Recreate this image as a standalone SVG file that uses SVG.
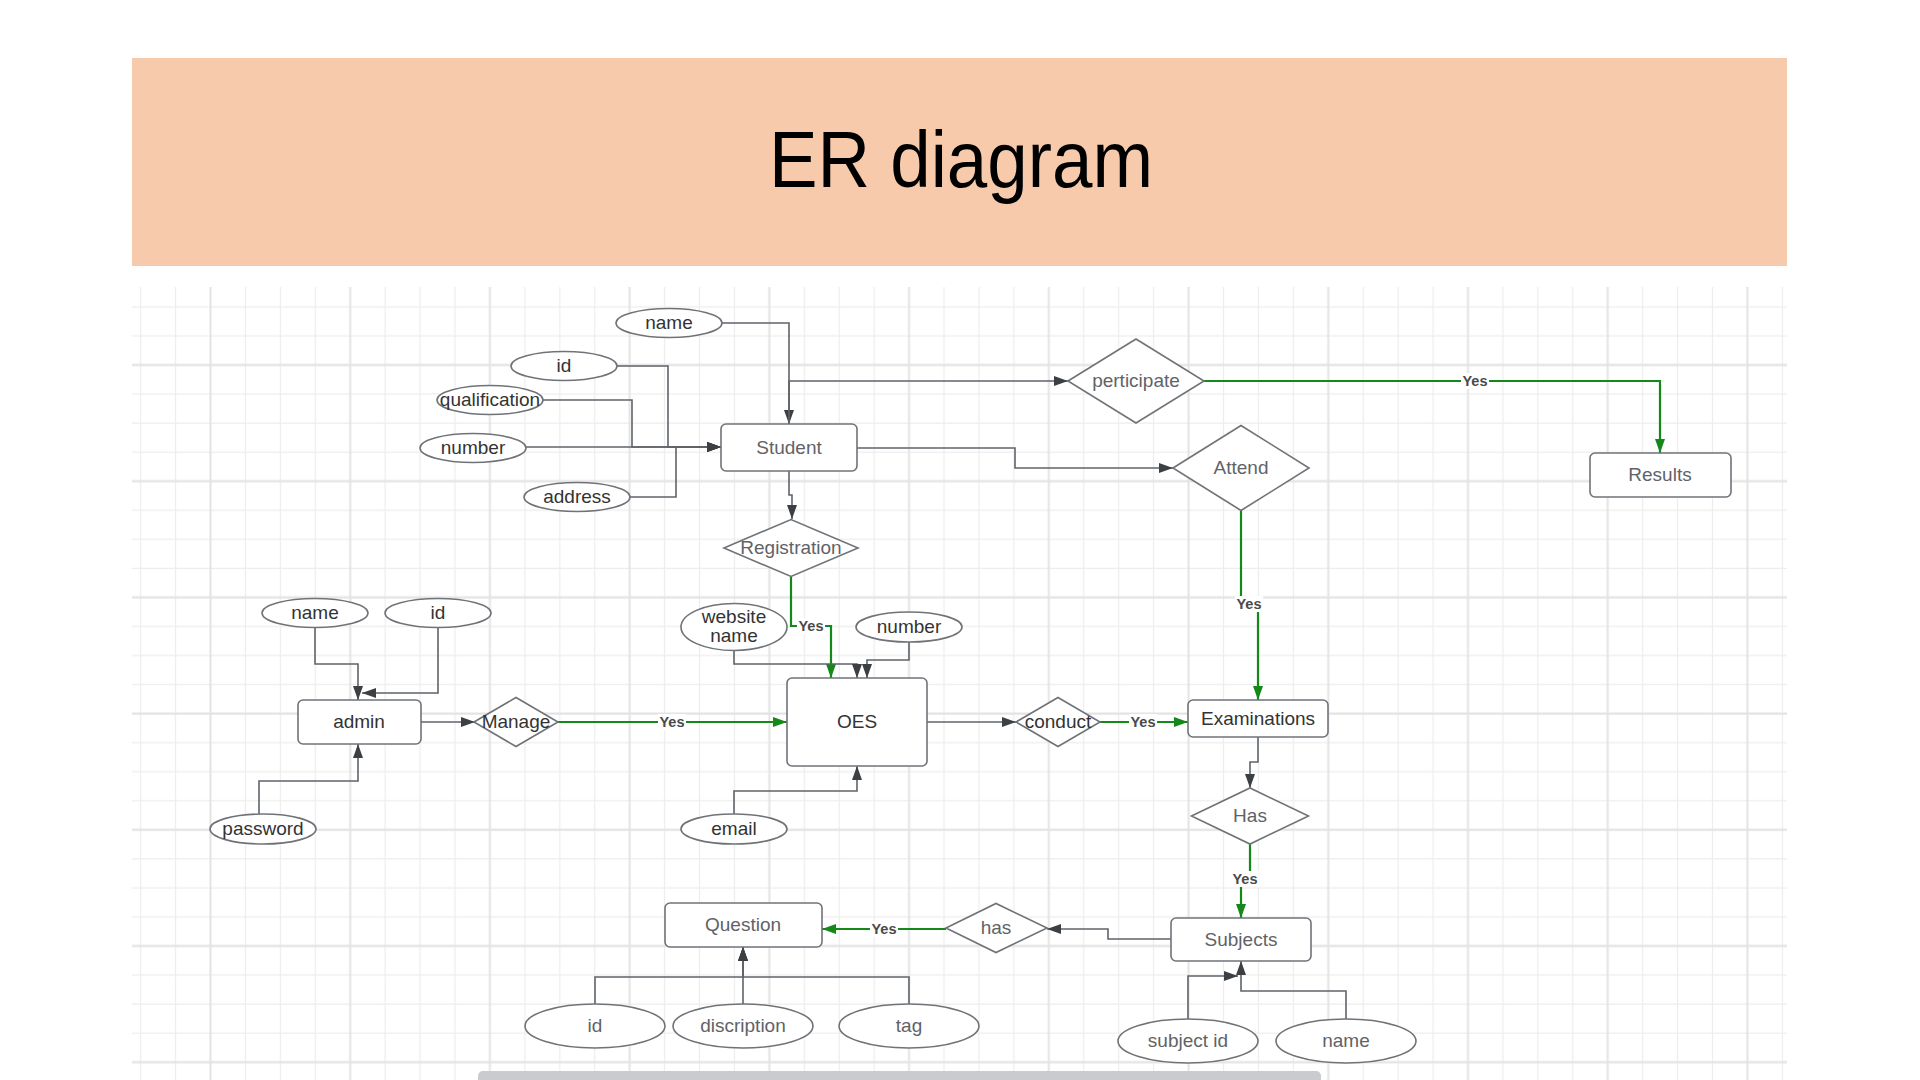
<svg xmlns="http://www.w3.org/2000/svg" width="1920" height="1080" viewBox="0 0 1920 1080">
<style>
.t{font-family:"Liberation Sans",Arial,sans-serif;font-size:19px;text-anchor:middle}
.dk{fill:#333333}
.gy{fill:#5f6368}
.shape{fill:#ffffff;stroke:#6f7378;stroke-width:1.6}
.c{fill:none;stroke:#5f6368;stroke-width:1.6}
.g{fill:none;stroke:#14891a;stroke-width:2.2}
.yes{font-family:"Liberation Sans",Arial,sans-serif;font-size:14.5px;font-weight:bold;fill:#4a4a4a;text-anchor:middle}
.yb{fill:#ffffff}
</style>
<defs>
<pattern id="grid" patternUnits="userSpaceOnUse" x="193.035" y="350.475" width="139.72" height="116.2">
<g stroke="#ededed" stroke-width="1.3">
<line x1="52.395" y1="0" x2="52.395" y2="116.2"/>
<line x1="87.325" y1="0" x2="87.325" y2="116.2"/>
<line x1="122.255" y1="0" x2="122.255" y2="116.2"/>
<line x1="0" y1="43.575" x2="139.72" y2="43.575"/>
<line x1="0" y1="72.625" x2="139.72" y2="72.625"/>
<line x1="0" y1="101.675" x2="139.72" y2="101.675"/>
</g>
<g stroke="#e3e3e3" stroke-width="2">
<line x1="17.465" y1="0" x2="17.465" y2="116.2"/>
<line x1="0" y1="14.525" x2="139.72" y2="14.525"/>
</g>
</pattern>
<marker id="ag" viewBox="0 0 14 10" markerUnits="userSpaceOnUse" markerWidth="14" markerHeight="10" refX="14" refY="5" orient="auto">
<path d="M0,0 L14,5 L0,10 z" fill="#3c4043"/>
</marker>
<marker id="agr" viewBox="0 0 14 10" markerUnits="userSpaceOnUse" markerWidth="14" markerHeight="10" refX="14" refY="5" orient="auto">
<path d="M0,0 L14,5 L0,10 z" fill="#14891a"/>
</marker>
</defs>

<rect x="0" y="0" width="1920" height="1080" fill="#ffffff"/>
<g id="header">
<rect x="132" y="58" width="1655" height="208" fill="#F7CAAC"/>
<text x="961" y="187" font-family="Liberation Sans,Arial,sans-serif" font-size="80" text-anchor="middle" fill="#000000" textLength="384" lengthAdjust="spacingAndGlyphs">ER diagram</text>
</g>
<rect id="canvas-grid" x="132" y="287" width="1655" height="793" fill="url(#grid)"/>
<rect id="scrollbar" x="478" y="1071" width="843" height="14" rx="5" fill="#c9cbce"/>

<g id="connectors">
<path class="c" d="M722,323 H789 V424" marker-end="url(#ag)"/>
<path class="c" d="M617,366 H668 V447 H721" marker-end="url(#ag)"/>
<path class="c" d="M543,400 H632 V447 H721" marker-end="url(#ag)"/>
<path class="c" d="M526,447 H721" marker-end="url(#ag)"/>
<path class="c" d="M630,497 H676 V447 H721" marker-end="url(#ag)"/>
<path class="c" d="M789,424 V381 H1068" marker-end="url(#ag)"/>
<path class="c" d="M857,448 H1015 V468 H1173" marker-end="url(#ag)"/>
<path class="c" d="M789,471 V495 H792 V519" marker-end="url(#ag)"/>
<path class="g" d="M1204,381 H1660 V453" marker-end="url(#agr)"/>
<path class="g" d="M1241,511 V604 H1258 V700" marker-end="url(#agr)"/>
<path class="g" d="M791,576 V626 H831 V678" marker-end="url(#agr)"/>
<path class="c" d="M734,651 V664 H857 V678" marker-end="url(#ag)"/>
<path class="c" d="M909,642 V660 H867 V678" marker-end="url(#ag)"/>
<path class="c" d="M734,814 V791 H857 V766" marker-end="url(#ag)"/>
<path class="c" d="M315,627 V664 H358 V700" marker-end="url(#ag)"/>
<path class="c" d="M438,627 V693 H362" marker-end="url(#ag)"/>
<path class="c" d="M259,814 V781 H358 V744" marker-end="url(#ag)"/>
<path class="c" d="M421,722 H475" marker-end="url(#ag)"/>
<path class="g" d="M558,722 H787" marker-end="url(#agr)"/>
<path class="c" d="M927,722 H1016" marker-end="url(#ag)"/>
<path class="g" d="M1100,722 H1188" marker-end="url(#agr)"/>
<path class="c" d="M1258,737 V762 H1250 V788" marker-end="url(#ag)"/>
<path class="g" d="M1250,844 V879 H1241 V918" marker-end="url(#agr)"/>
<path class="c" d="M1171,939 H1108 V929 H1047" marker-end="url(#ag)"/>
<path class="g" d="M946,929 H822" marker-end="url(#agr)"/>
<path class="c" d="M595,1004 V977 H743 V947" marker-end="url(#ag)"/>
<path class="c" d="M743,1004 V947" marker-end="url(#ag)"/>
<path class="c" d="M909,1004 V977 H743 V947" marker-end="url(#ag)"/>
<path class="c" d="M1188,1019 V976 H1238" marker-end="url(#ag)"/>
<path class="c" d="M1346,1019 V991 H1241 V961" marker-end="url(#ag)"/>
<g id="yes-labels">
<rect class="yb" x="1461" y="373" width="28" height="16"/><text class="yes" x="1475" y="386">Yes</text>
<rect class="yb" x="1235" y="596" width="28" height="16"/><text class="yes" x="1249" y="609">Yes</text>
<rect class="yb" x="797" y="618" width="28" height="16"/><text class="yes" x="811" y="631">Yes</text>
<rect class="yb" x="658" y="714" width="28" height="16"/><text class="yes" x="672" y="727">Yes</text>
<rect class="yb" x="1129" y="714" width="28" height="16"/><text class="yes" x="1143" y="727">Yes</text>
<rect class="yb" x="1231" y="871" width="28" height="16"/><text class="yes" x="1245" y="884">Yes</text>
<rect class="yb" x="870" y="921" width="28" height="16"/><text class="yes" x="884" y="934">Yes</text>
</g>
</g>

<g id="student-name"><ellipse class="shape" cx="669" cy="323" rx="53" ry="14.5"/><text class="t dk" x="669" y="329">name</text></g>
<g id="student-id"><ellipse class="shape" cx="564" cy="366" rx="53" ry="14.5"/><text class="t dk" x="564" y="372">id</text></g>
<g id="student-qualification"><ellipse class="shape" cx="490" cy="400" rx="53" ry="14.5"/><text class="t dk" x="490" y="406">qualification</text></g>
<g id="student-number"><ellipse class="shape" cx="473" cy="448" rx="53" ry="14.5"/><text class="t dk" x="473" y="454">number</text></g>
<g id="student-address"><ellipse class="shape" cx="577" cy="497" rx="53" ry="14.5"/><text class="t dk" x="577" y="503">address</text></g>
<g id="student"><rect class="shape" x="721" y="424" width="136" height="47" rx="5"/><text class="t gy" x="789" y="454">Student</text></g>
<g id="registration"><polygon class="shape" points="724,548 791,519.5 858,548 791,576.5"/><text class="t gy" x="791" y="554">Registration</text></g>
<g id="perticipate"><polygon class="shape" points="1068,381 1136,339 1204,381 1136,423"/><text class="t gy" x="1136" y="387">perticipate</text></g>
<g id="attend"><polygon class="shape" points="1173,468 1241,425.5 1309,468 1241,510.5"/><text class="t gy" x="1241" y="474">Attend</text></g>
<g id="results"><rect class="shape" x="1590" y="453" width="141" height="44" rx="5"/><text class="t gy" x="1660" y="481">Results</text></g>

<g id="admin-name"><ellipse class="shape" cx="315" cy="613" rx="53" ry="14.5"/><text class="t dk" x="315" y="619">name</text></g>
<g id="admin-id"><ellipse class="shape" cx="438" cy="613" rx="53" ry="14.5"/><text class="t dk" x="438" y="619">id</text></g>
<g id="admin"><rect class="shape" x="298" y="700" width="123" height="44" rx="5"/><text class="t dk" x="359" y="728">admin</text></g>
<g id="admin-password"><ellipse class="shape" cx="263" cy="829" rx="53" ry="15"/><text class="t dk" x="263" y="835">password</text></g>
<g id="manage"><polygon class="shape" points="474,722 516,697.5 558,722 516,746.5"/><text class="t dk" x="516" y="728">Manage</text></g>

<g id="oes-website-name"><ellipse class="shape" cx="734" cy="627" rx="53" ry="23.5"/><text class="t dk" x="734" y="623">website</text><text class="t dk" x="734" y="642">name</text></g>
<g id="oes-number"><ellipse class="shape" cx="909" cy="627" rx="53" ry="15"/><text class="t dk" x="909" y="633">number</text></g>
<g id="oes"><rect class="shape" x="787" y="678" width="140" height="88" rx="5"/><text class="t dk" x="857" y="728">OES</text></g>
<g id="oes-email"><ellipse class="shape" cx="734" cy="829" rx="53" ry="15"/><text class="t dk" x="734" y="835">email</text></g>
<g id="conduct"><polygon class="shape" points="1016,722 1058,697.5 1100,722 1058,746.5"/><text class="t dk" x="1058" y="728">conduct</text></g>
<g id="examinations"><rect class="shape" x="1188" y="700" width="140" height="37" rx="5"/><text class="t dk" x="1258" y="725">Examinations</text></g>
<g id="has-exam"><polygon class="shape" points="1191.5,816 1250,788 1308.5,816 1250,844"/><text class="t gy" x="1250" y="822">Has</text></g>
<g id="subjects"><rect class="shape" x="1171" y="918" width="140" height="43" rx="5"/><text class="t gy" x="1241" y="946">Subjects</text></g>
<g id="has-subject"><polygon class="shape" points="946,928 996,903.5 1047,928 996,952.5"/><text class="t gy" x="996" y="934">has</text></g>
<g id="question"><rect class="shape" x="665" y="903" width="157" height="44" rx="5"/><text class="t gy" x="743" y="931">Question</text></g>
<g id="question-id"><ellipse class="shape" cx="595" cy="1026" rx="70" ry="22"/><text class="t gy" x="595" y="1032">id</text></g>
<g id="question-discription"><ellipse class="shape" cx="743" cy="1026" rx="70" ry="22"/><text class="t gy" x="743" y="1032">discription</text></g>
<g id="question-tag"><ellipse class="shape" cx="909" cy="1026" rx="70" ry="22"/><text class="t gy" x="909" y="1032">tag</text></g>
<g id="subject-id"><ellipse class="shape" cx="1188" cy="1041" rx="70" ry="22"/><text class="t gy" x="1188" y="1047">subject id</text></g>
<g id="subject-name"><ellipse class="shape" cx="1346" cy="1041" rx="70" ry="22"/><text class="t gy" x="1346" y="1047">name</text></g>
</svg>
